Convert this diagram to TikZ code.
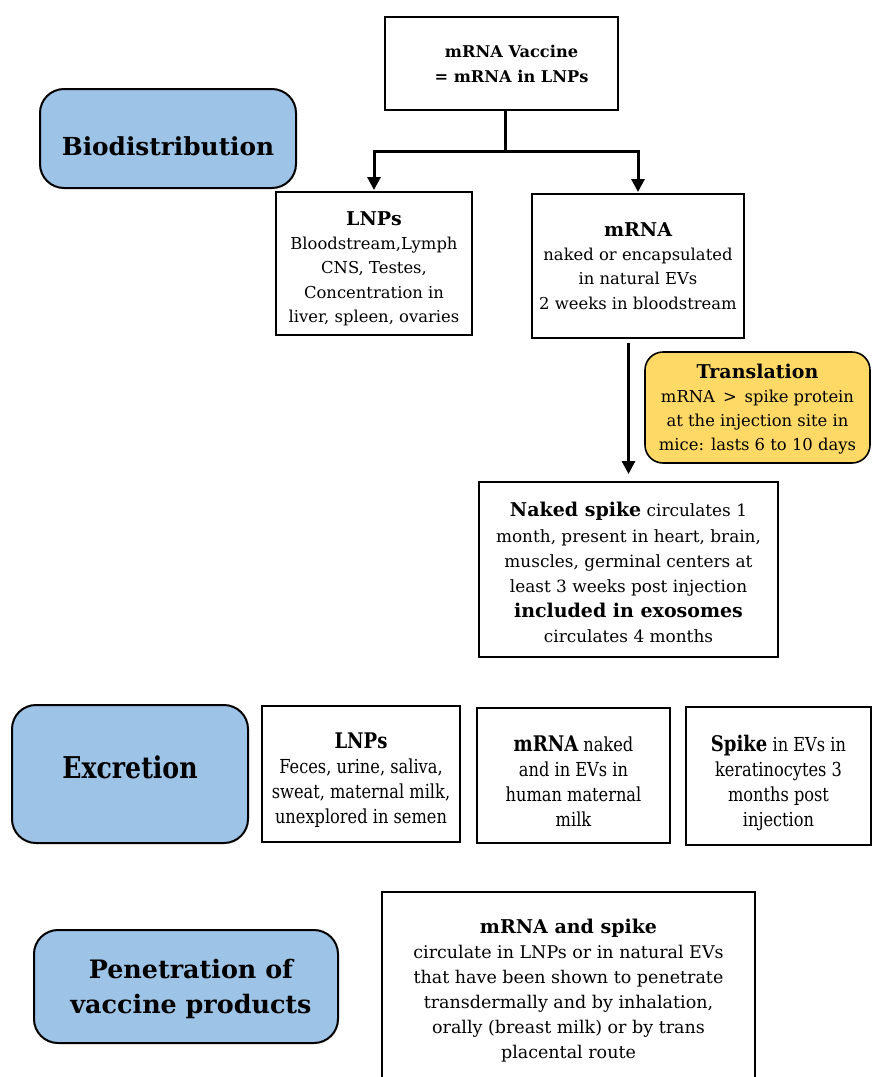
\documentclass[tikz,border=0pt]{standalone}
\usepackage{fontspec}
\setmainfont{DejaVu Serif}
\newfontfamily\condfont{DejaVu Serif}[FakeStretch=0.84]
\usetikzlibrary{arrows.meta}
\definecolor{boxblue}{RGB}{157,195,230}
\definecolor{boxyellow}{RGB}{255,217,102}
\tikzset{
  plainbox/.style={draw=black, line width=2pt, fill=white, align=center, inner sep=0pt},
  catbox/.style={draw=black, line width=2pt, fill=boxblue, rounded corners=24pt, align=center, inner sep=0pt},
  transbox/.style={draw=black, line width=1.6pt, fill=boxyellow, rounded corners=18pt, align=center, inner sep=0pt},
  link/.style={line width=3pt},
  arr/.style={line width=3pt, -{Triangle[width=13pt,length=13pt]}},
  body/.style={font=\fontsize{16.4}{24.2}\selectfont},
  spikebody/.style={font=\fontsize{16.9}{25.2}\selectfont},
  pentbody/.style={font=\fontsize{17.5}{25}\selectfont},
  condbody/.style={font=\condfont\fontsize{19.3}{25}\selectfont},
}
\newcommand{\ttl}[1]{{\fontsize{19}{24}\selectfont\bfseries #1}}
\newcommand{\cttl}[1]{{\fontsize{21.5}{25}\selectfont\bfseries #1}}
\begin{document}
\begin{tikzpicture}[x=1pt,y=-1pt]
\useasboundingbox (0,0) rectangle (872,1077);
\clip (0,0) rectangle (872,1077);

\node[plainbox, minimum width=233pt, minimum height=93pt, font=\fontsize{16.2}{25}\selectfont\bfseries] (top) at (501.5,63.5)
  {\hspace*{20pt}mRNA Vaccine\\\hspace*{20pt}= mRNA in LNPs};

\node[catbox, minimum width=256pt, minimum height=99pt, text height=34pt, text depth=0pt, font=\fontsize{24.8}{28}\selectfont\bfseries] (bio) at (168,138.5) {Biodistribution};

\node[plainbox, body, minimum width=196pt, minimum height=143pt] (lnps) at (374,263.5)
  {\rule{0pt}{24pt}\ttl{LNPs}\\Bloodstream,Lymph\\CNS, Testes,\\Concentration in\\liver, spleen, ovaries};

\node[plainbox, body, minimum width=212pt, minimum height=144pt] (mrna) at (638,266)
  {\ttl{mRNA}\\naked or encapsulated\\in natural EVs\\2 weeks in bloodstream};

\node[transbox, body, minimum width=225pt, minimum height=111pt] (trans) at (757.5,407.5)
  {\rule{0pt}{18pt}\ttl{Translation}\\mRNA \,>\, spike protein\\at the injection site in\\mice: lasts 6 to 10 days};

\node[plainbox, spikebody, minimum width=299pt, minimum height=175pt] (spike) at (628.5,569.5)
  {\rule{0pt}{21pt}\ttl{Naked spike} circulates 1\\month, present in heart, brain,\\muscles, germinal centers at\\least 3 weeks post injection\\\ttl{included in exosomes}\\circulates 4 months};

\node[catbox, minimum width=236pt, minimum height=138pt, text height=22pt, text depth=14pt, font=\condfont\fontsize{30}{32}\selectfont\bfseries] (excr) at (130,774) {Excretion};

\node[plainbox, condbody, minimum width=198pt, minimum height=136pt] (exl) at (361,774)
  {\rule{0pt}{27pt}\cttl{LNPs}\\Feces, urine, saliva,\\sweat, maternal milk,\\unexplored in semen};

\node[plainbox, condbody, minimum width=193pt, minimum height=135pt] (exm) at (573.5,775.5)
  {\rule{0pt}{27pt}\cttl{mRNA} naked\\and in EVs in\\human maternal\\milk};

\node[plainbox, condbody, minimum width=185pt, minimum height=138pt] (exs) at (778.5,776)
  {\rule{0pt}{31pt}\cttl{Spike} in EVs in\\keratinocytes 3\\months post\\injection};

\node[catbox, minimum width=304pt, minimum height=113pt, font=\fontsize{25.4}{35}\selectfont\bfseries] (pen) at (186,986.5)
  {\rule{0pt}{24pt}\hspace*{10pt}Penetration of\\\hspace*{10pt}vaccine products};

\node[plainbox, pentbody, minimum width=373pt, minimum height=198pt] (pent) at (568.5,991)
  {\ttl{mRNA and spike}\\circulate in LNPs or in natural EVs\\that have been shown to penetrate\\transdermally and by inhalation,\\orally (breast milk) or by trans\\placental route};

% connectors
\coordinate (jy) at (0,151);
\draw[link] ([xshift=4pt]top.south) -- ([xshift=4pt]top.south |- jy);
\draw[link] ([xshift=-1.5pt]lnps.north |- jy) -- ([xshift=1.5pt]mrna.north |- jy);
\draw[arr] (lnps.north |- jy) -- ([yshift=1pt]lnps.north);
\draw[arr] (mrna.north |- jy) -- ([yshift=1pt]mrna.north);
\draw[arr] ([yshift=-4pt]spike.north |- mrna.south) -- ([yshift=7pt]spike.north);
\end{tikzpicture}
\end{document}
